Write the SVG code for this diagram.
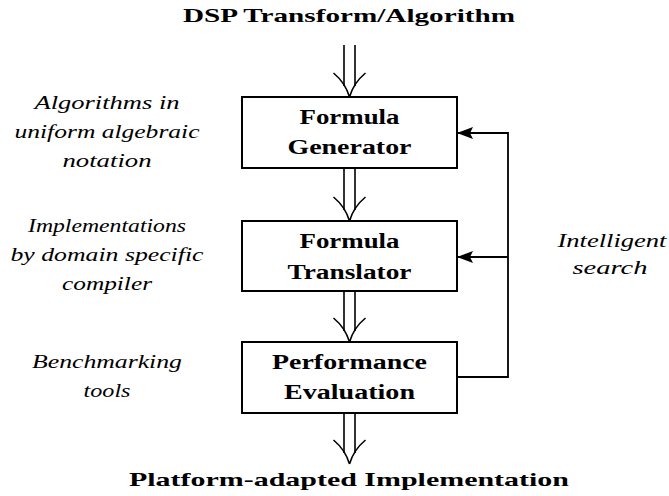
<svg xmlns="http://www.w3.org/2000/svg" width="669" height="496" viewBox="0 0 669 496">
  <style>
    .box { fill: #fff; stroke: #000; stroke-width: 2; }
    .wire { fill: none; stroke: #000; stroke-width: 1.8; }
    .dbl { fill: none; stroke: #000; stroke-width: 1.6; stroke-linecap: butt; }
    text { font-family: "Liberation Serif", "DejaVu Serif", "Times New Roman", serif; fill: #000; text-anchor: middle; }
    .title { font-weight: bold; font-size: 19px; }
    .node { font-weight: bold; font-size: 20px; }
    .note { font-style: italic; font-size: 19px; }
  </style>
  <defs>
    <marker id="head" viewBox="0 0 16 12" refX="15" refY="6" markerWidth="16" markerHeight="12" markerUnits="userSpaceOnUse" orient="auto">
      <path d="M0,0 L16,6 L0,12 L3,6 Z" fill="#000"/>
    </marker>
    <!-- double-shafted arrow with curved barbs, tip at (0,0) -->
    <g id="dblarrow">
      <path class="dbl" d="M-5.5,-52 V-11 M5.5,-52 V-11"/>
      <path class="dbl" d="M-16,-24 Q-4,-14 0,0 M16,-24 Q4,-14 0,0"/>
    </g>
  </defs>

  <!-- top and bottom labels -->
  <text class="title" x="349" y="22" textLength="332" lengthAdjust="spacingAndGlyphs">DSP Transform/Algorithm</text>
  <text class="title" x="349" y="486" textLength="440" lengthAdjust="spacingAndGlyphs">Platform-adapted Implementation</text>

  <!-- side notes -->
  <text class="note" x="107" y="109" textLength="145" lengthAdjust="spacingAndGlyphs">Algorithms in</text>
  <text class="note" x="107" y="138" textLength="185" lengthAdjust="spacingAndGlyphs">uniform algebraic</text>
  <text class="note" x="107" y="167" textLength="89" lengthAdjust="spacingAndGlyphs">notation</text>

  <text class="note" x="107" y="232" textLength="158" lengthAdjust="spacingAndGlyphs">Implementations</text>
  <text class="note" x="107" y="261" textLength="193" lengthAdjust="spacingAndGlyphs">by domain specific</text>
  <text class="note" x="107" y="290" textLength="90" lengthAdjust="spacingAndGlyphs">compiler</text>

  <text class="note" x="107" y="368" textLength="150" lengthAdjust="spacingAndGlyphs">Benchmarking</text>
  <text class="note" x="107" y="397" textLength="47" lengthAdjust="spacingAndGlyphs">tools</text>

  <text class="note" x="612" y="247" textLength="109" lengthAdjust="spacingAndGlyphs">Intelligent</text>
  <text class="note" x="610" y="274" textLength="75" lengthAdjust="spacingAndGlyphs">search</text>

  <!-- nodes -->
  <g id="formula-generator">
    <rect class="box" x="242" y="97" width="215" height="71"/>
    <text class="node" x="349.5" y="124" textLength="100" lengthAdjust="spacingAndGlyphs">Formula</text>
    <text class="node" x="349.5" y="154" textLength="124" lengthAdjust="spacingAndGlyphs">Generator</text>
  </g>
  <g id="formula-translator">
    <rect class="box" x="242" y="221" width="215" height="70"/>
    <text class="node" x="349.5" y="248" textLength="100" lengthAdjust="spacingAndGlyphs">Formula</text>
    <text class="node" x="349.5" y="279" textLength="124" lengthAdjust="spacingAndGlyphs">Translator</text>
  </g>
  <g id="performance-evaluation">
    <rect class="box" x="242" y="342" width="215" height="71"/>
    <text class="node" x="349.5" y="369" textLength="155" lengthAdjust="spacingAndGlyphs">Performance</text>
    <text class="node" x="349.5" y="399" textLength="131" lengthAdjust="spacingAndGlyphs">Evaluation</text>
  </g>

  <!-- connectors -->
  <g id="connectors">
    <use href="#dblarrow" x="349.5" y="97"/>
    <use href="#dblarrow" x="349.5" y="221"/>
    <use href="#dblarrow" x="349.5" y="342"/>
    <use href="#dblarrow" x="349.5" y="464"/>
    <path class="wire" d="M457,377 H508 V133 H458" marker-end="url(#head)"/>
    <path class="wire" d="M508,257 H458" marker-end="url(#head)"/>
  </g>
</svg>
